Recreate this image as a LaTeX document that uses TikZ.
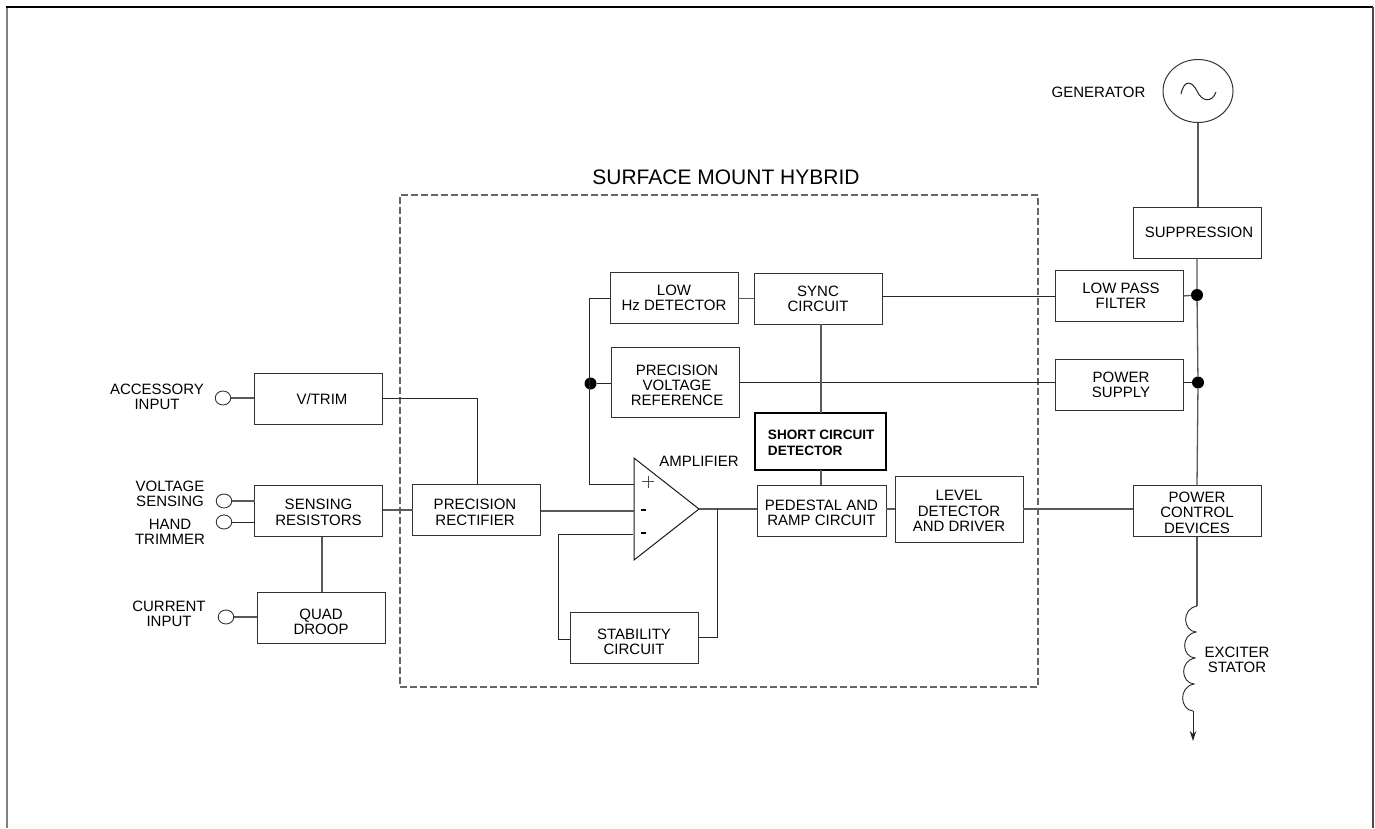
\documentclass[tikz,border=0pt]{standalone}
\usepackage{fontspec}
\setmainfont{Liberation Sans}
\usetikzlibrary{arrows.meta,shapes.geometric}
\newcommand{\lbl}{\fontsize{15}{15.2}\selectfont}
\newcommand{\lowr}[1]{\rule{0pt}{#1}}
\newcommand{\rgt}{\hspace*{4pt}}
\tikzset{
  x=1pt,y=-1pt,
  every node/.style={font=\lbl,inner sep=0pt,outer sep=0pt},
  boxn/.style={draw=black!80,line width=1pt,align=center,minimum width=128pt,minimum height=51.5pt},
  wire/.style={draw=black!65,line width=1.3pt},
  thin wire/.style={draw=black!85,line width=1pt},
  term/.style={draw=black!80,line width=0.9pt,ellipse,minimum width=15.5pt,minimum height=14pt},
  junction/.style={circle,fill=black,minimum size=12pt},
  txt/.style={align=center},
}
\begin{document}
\begin{tikzpicture}
\useasboundingbox (0,0) rectangle (1375,828);
% frame
\draw[draw=black!50,line width=2pt] (7,828) -- (7,7);
\draw[black,line width=1.2pt] (6,7) -- (1373,7);
\draw[draw=black!70,line width=1.5pt] (1373,7) -- (1373,828);
% hybrid boundary
\node[draw=black!60,line width=1.3pt,minimum width=638pt,minimum height=492pt,dash pattern=on 7pt off 3pt] (hybrid) at (719,441) {};
\node[font=\fontsize{21}{23}\selectfont] (title) at (726,177) {SURFACE MOUNT HYBRID};
% boxes
\node[boxn] (vtrim) at (318,399) {\rgt\rgt V/TRIM};
\node[boxn] (sens) at (318.5,511) {\lowr{13pt}SENSING\\RESISTORS};
\node[boxn,minimum height=51pt] (quad) at (321,617.5) {\lowr{19pt}QUAD\\DROOP};
\node[boxn] (prec) at (476.5,510) {\lowr{15pt}PRECISION\hspace*{3pt}\\RECTIFIER\hspace*{3pt}};
\node[boxn] (lowhz) at (674,298) {LOW\\Hz DETECTOR};
\node[boxn,minimum height=51pt] (sync) at (818,298.5) {SYNC\\CIRCUIT};
\node[boxn,minimum height=70pt] (pvr) at (675,382) {\lowr{17pt}\rgt PRECISION\\\rgt VOLTAGE\\\rgt REFERENCE};
\node[boxn,minimum width=131pt,minimum height=57pt,font=\fontsize{13.6}{16}\selectfont\bfseries,align=left,line width=1.2pt,draw=black] (scd) at (820.5,441.5) {\lowr{13pt}\hspace*{1.5pt}SHORT CIRCUIT\\\hspace*{1.5pt}DETECTOR};
\node[boxn,minimum width=129pt] (ped) at (821.5,511) {\lowr{14pt}PEDESTAL AND\\RAMP CIRCUIT};
\node[boxn,minimum height=66pt] (level) at (959,509) {\lowr{14pt}LEVEL\\DETECTOR\\AND DRIVER};
\node[boxn] (lpf) at (1119,296) {\rgt LOW PASS\\\rgt FILTER};
\node[boxn,minimum height=51pt] (psup) at (1119,384.5) {\rgt POWER\\\rgt SUPPLY};
\node[boxn] (supp) at (1197,233) {\raisebox{2pt}{\rgt SUPPRESSION}};
\node[boxn] (pcd) at (1197,511) {\lowr{14pt}POWER\\CONTROL\\DEVICES};
\node[boxn,minimum height=51pt] (stab) at (634,637.5) {\lowr{19pt}STABILITY\\CIRCUIT};
% generator
\node[draw=black!80,line width=1pt,ellipse,minimum width=70pt,minimum height=63pt] (gen) at (1198,91) {};
\draw[black!85,line width=1pt] (1181,94) .. controls (1184,79) and (1192,81) .. (1197,91) .. controls (1202,102) and (1212,103) .. (1216,92);
\node (genl) at (1098.5,92.5) {GENERATOR};
% amplifier
\coordinate (ampa) at (634,458);
\coordinate (ampb) at (634,560);
\coordinate (ampc) at (699,509);
\draw[draw=black!90,line width=1pt,line join=miter] (ampa) -- (ampc) -- (ampb) -- cycle;
\node (ampl) at (699,461.5) {AMPLIFIER};
\draw[black!70,line width=1pt] (642,481.5) -- (654,481.5) (648,475.5) -- (648,487.5);
\draw[black,line width=1.6pt] (641,510) -- (646,510) (641,533) -- (646,533);
% terminals
\node[term] (t1) at (223,398) {};
\node[term] (t2) at (224,501) {};
\node[term] (t3) at (224,522) {};
\node[term] (t4) at (226,617) {};
\node[txt] at (157,397) {ACCESSORY\\INPUT};
\node[txt] at (170,494) {VOLTAGE\\SENSING};
\node[txt] at (170,531.5) {HAND\\TRIMMER};
\node[txt] at (169,614) {CURRENT\\INPUT};
\node[txt] at (1237,659.5) {EXCITER\\STATOR};
% junctions
\node[junction] (j1) at (1197,295) {};
\node[junction] (j2) at (1198,382.5) {};
\node[junction] (j3) at (590.5,383.5) {};
% wires
\draw[wire] (gen.south) -- (gen.south |- supp.north);
\draw[wire] (supp.south) -- (j1) -- (j2) -- (pcd.north);
\draw[thin wire] (sync.east |- lpf.west) -- (lpf.west);
\draw[wire] (lpf.east) -- (j1);
\draw[thin wire] (pvr.east |- j2) -- (psup.west |- j2);
\draw[thin wire] (psup.east |- j2) -- (j2);
\draw[wire] (lowhz.east |- sync.west) -- (sync.west);
\draw[thin wire] (lowhz.west) -- (589.5,298) -- (589.5,484) -- (ampa |- 0,484);
\draw[thin wire] (j3) -- (pvr.west |- j3);
\draw[wire] (sync.south -| 821,0) -- (scd.north -| 821,0);
\draw[wire] (scd.south -| 821,0) -- (ped.north -| 821,0);
\draw[wire] (ampc) -- (ped.west |- ampc);
\draw[thin wire] (717,509) -- (717,637.5) -- (stab.east |- 0,637.5);
\draw[thin wire] (stab.west |- 0,639) -- (558,639) -- (558,534.5) -- (632.5,534.5);
\draw[wire] (prec.east |- 0,511) -- (ampa |- 0,511);
\draw[wire] (sens.east |- 0,510) -- (prec.west |- 0,510);
\draw[thin wire] (vtrim.east |- 0,398) -- (477,398) -- (prec.north -| 477,0);
\draw[wire] (t1.east) -- (vtrim.west |- t1.east);
\draw[wire] (t2.east) -- (sens.west |- t2.east);
\draw[thin wire] (t3.east) -- (sens.west |- t3.east);
\draw[wire] (t4.east) -- (quad.west |- t4.east);
\draw[wire] (sens.south -| 322,0) -- (quad.north -| 322,0);
\draw[wire] (level.east |- 0,509) -- (pcd.west |- 0,509);
\draw[wire] (ped.east |- 0,509) -- (level.west |- 0,509);
% coil
\coordinate (coilin) at (1197,606);
\coordinate (coilout) at (1193,711);
\coordinate (arrowend) at (1193,741);
\draw[wire] (pcd.south -| coilin) -- (coilin);
\draw[black!85,line width=0.9pt] (coilin) .. controls (1181,609) and (1183,631) .. (1196,632)
  .. controls (1180,635) and (1182,657) .. (1195,658)
  .. controls (1179,661) and (1181,683) .. (1194,684)
  .. controls (1178,687) and (1180,710) .. (coilout);
\draw[black!85,line width=1pt,-{Stealth[length=10pt,width=6.5pt]}] (coilout) -- (arrowend);
\end{tikzpicture}
\end{document}
